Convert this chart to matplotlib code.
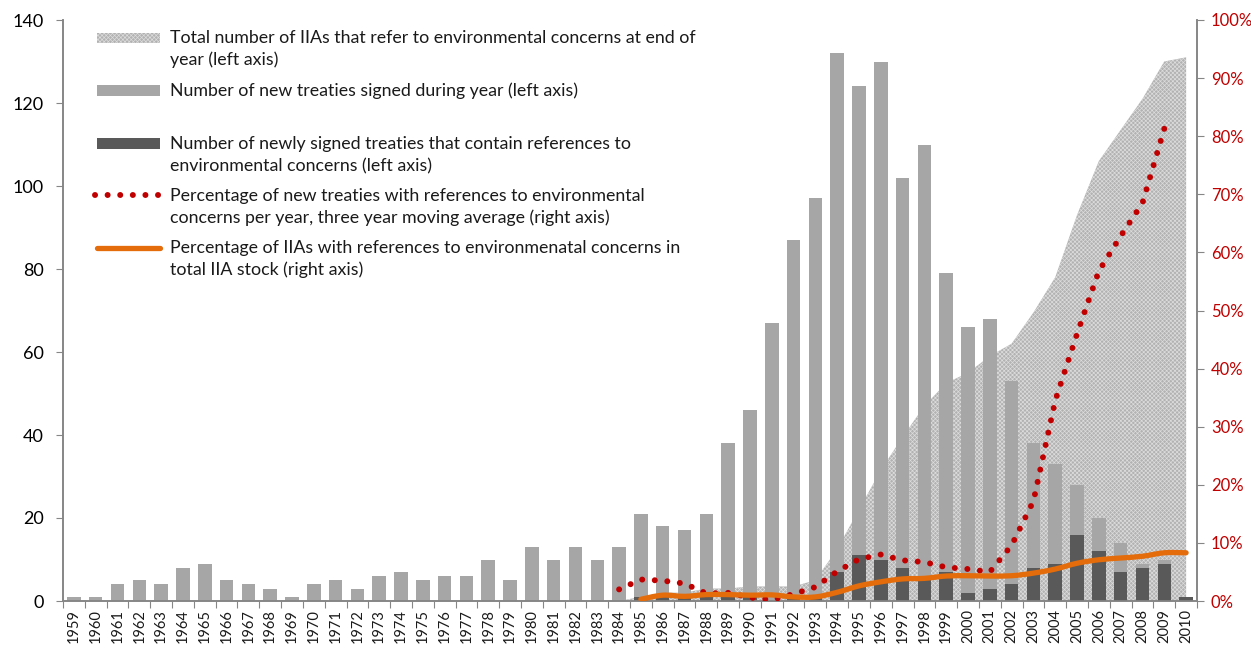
import numpy as np
import matplotlib.pyplot as plt
from matplotlib.path import Path
from matplotlib.patches import PathPatch, Rectangle
from matplotlib.lines import Line2D

plt.rcParams['font.family'] = ['Lato', 'DejaVu Sans']
plt.rcParams['hatch.linewidth'] = 0.5

years = list(range(1959, 2011))

# number of new treaties signed during year (left axis)
new_treaties = [1, 1, 4, 5, 4, 8, 9, 5, 4, 3,
                1, 4, 5, 3, 6, 7, 5, 6, 6, 10,
                5, 13, 10, 13, 10, 13, 21, 18, 17, 21,
                38, 46, 67, 87, 97, 132, 124, 130, 102, 110,
                79, 66, 68, 53, 38, 33, 28, 20, 14, 9,
                10, 1]

# newly signed treaties with environmental references (left axis)
env_new = [0] * 26 + [1, 1, 1, 1, 1, 1, 0, 1, 1, 7,
                      11, 10, 8, 6, 7, 2, 3, 4, 8, 9,
                      16, 12, 7, 8, 9, 1]

# total IIAs referring to environmental concerns at end of year (left axis)
env_total = [0] * 26 + [1, 2, 2, 3, 3, 3.5, 3.5, 3.5, 5, 12.5,
                        22, 31.5, 39.5, 47, 52.5, 55, 59, 62, 69.5, 78,
                        93, 106, 113.5, 121, 130, 131]

# 3-year moving average, % of new treaties with env. references, 1984-2009
pct_new_years = list(range(1984, 2010))
pct_new = [2.0, 3.7, 3.5, 3.0, 1.3, 1.4, 0.6, 0.2, 1.2, 2.4,
           5.1, 7.2, 8.0, 7.0, 6.7, 5.8, 5.5, 5.0, 9.6, 17.2,
           34.5, 46.0, 56.8, 62.8, 68.5, 81.3]

# % of IIAs with env. references in total stock, 1985-2010
pct_stock_years = list(range(1985, 2011))
pct_stock = [0.3, 1.0, 0.8, 1.1, 1.1, 1.0, 1.05, 0.7, 0.7, 1.5,
             2.6, 3.3, 3.8, 3.9, 4.3, 4.35, 4.3, 4.35, 4.8, 5.5,
             6.5, 7.1, 7.4, 7.7, 8.3, 8.3]

LIGHT = '#a6a6a6'
DARK = '#595959'
RED = '#c00000'
ORANGE = '#e46c0a'
AXC = '#868686'
AREA_FC = '#b2b2b2'
AREA_HC = '#dcdcdc'

W, H = 1251, 649
fig = plt.figure(figsize=(W / 100, H / 100), dpi=100)
ax = fig.add_axes([63 / W, 1 - 601 / H, (1197 - 63) / W, (601 - 20) / H])
ax2 = ax.twinx()

x = np.arange(len(years))

ax.fill_between(x, env_total, 0, facecolor=AREA_FC, edgecolor=AREA_HC,
                hatch='xxxxxxxx', linewidth=0, zorder=1)
ax.bar(x, new_treaties, width=0.62, color=LIGHT, zorder=2)
ax.bar(x, env_new, width=0.62, color=DARK, zorder=3)

ax.set_xlim(-0.5, len(years) - 0.5)
ax.set_ylim(0, 140)
ax.set_yticks(range(0, 141, 20))
ax.tick_params(axis='y', direction='out', length=5, color=AXC, labelsize=13,
               pad=9)

ax.set_xticks(np.arange(len(years) + 1) - 0.5)
ax.set_xticklabels([])
ax.tick_params(axis='x', which='major', direction='out', length=5, color=AXC)
ax.set_xticks(x, minor=True)
ax.set_xticklabels([str(y) for y in years], minor=True, rotation=90,
                   fontsize=10.5, color='#1a1a1a')
ax.tick_params(axis='x', which='minor', length=0, pad=6)

for a in (ax, ax2):
    a.spines['top'].set_visible(False)
    for s in ('left', 'right', 'bottom'):
        a.spines[s].set_color(AXC)
        a.spines[s].set_linewidth(1.2)

# right axis lines
px_new = [years.index(y) for y in pct_new_years]
ax2.plot(px_new, pct_new, color=RED, linewidth=4.3,
         linestyle=(0, (0.01, 2.1)), dash_capstyle='round', zorder=5)

# smoothed orange line (Catmull-Rom style bezier, like Excel's smoothed line)
ps = np.column_stack([[years.index(y) for y in pct_stock_years], pct_stock])
verts = [ps[0]]
codes = [Path.MOVETO]
n = len(ps)
for i in range(n - 1):
    p0 = ps[max(i - 1, 0)]
    p1 = ps[i]
    p2 = ps[i + 1]
    p3 = ps[min(i + 2, n - 1)]
    c1 = p1 + (p2 - p0) / 6
    c2 = p2 - (p3 - p1) / 6
    verts += [c1, c2, p2]
    codes += [Path.CURVE4] * 3
ax2.add_patch(PathPatch(Path(verts, codes), fill=False, edgecolor=ORANGE,
                        linewidth=3.8, capstyle='round', zorder=6))

ax2.set_ylim(0, 100)
ax2.set_yticks(range(0, 101, 10))
ax2.set_yticklabels([f'{v}%' for v in range(0, 101, 10)])
ax2.tick_params(axis='y', direction='out', length=5, color=AXC, labelsize=12,
                labelcolor=RED, pad=5)


# legend drawn by hand (handles aligned with first text line, Excel-like)
def fx(px):
    return px / W


def fy(py):
    return 1 - py / H


hx0, hx1, tx = 97, 160, 170
fig.patches.append(Rectangle((fx(hx0), fy(43)), fx(hx1) - fx(hx0), 10 / H,
                             transform=fig.transFigure, facecolor=AREA_FC,
                             edgecolor=AREA_HC, hatch='xxxxxxxx', linewidth=0))
fig.patches.append(Rectangle((fx(hx0), fy(96)), fx(hx1) - fx(hx0), 11 / H,
                             transform=fig.transFigure, facecolor=LIGHT,
                             linewidth=0))
fig.patches.append(Rectangle((fx(hx0), fy(149)), fx(hx1) - fx(hx0), 11 / H,
                             transform=fig.transFigure, facecolor=DARK,
                             linewidth=0))
fig.lines.append(Line2D([fx(hx0 - 2), fx(hx1)], [fy(195), fy(195)],
                        transform=fig.transFigure, color=RED, linewidth=4.3,
                        linestyle=(0, (0.01, 2.1)), dash_capstyle='round'))
fig.lines.append(Line2D([fx(hx0), fx(hx1)], [fy(248), fy(248)],
                        transform=fig.transFigure, color=ORANGE,
                        linewidth=3.8, solid_capstyle='round'))

legend_lines = [
    (38, 'Total number of IIAs that refer to environmental concerns at end of'),
    (60, 'year (left axis)'),
    (91, 'Number of new treaties signed during year (left axis)'),
    (144, 'Number of newly signed treaties that contain references to'),
    (166, 'environmental concerns (left axis)'),
    (196, 'Percentage of new treaties with references to environmental'),
    (218, 'concerns per year, three year moving average (right axis)'),
    (248, 'Percentage of IIAs with references to environmenatal concerns in'),
    (270, 'total IIA stock (right axis)'),
]
for py, txt in legend_lines:
    fig.text(fx(tx), fy(py), txt, fontsize=12.8, color='#1a1a1a',
             va='center', ha='left')

fig.savefig('out.png', dpi=100)
